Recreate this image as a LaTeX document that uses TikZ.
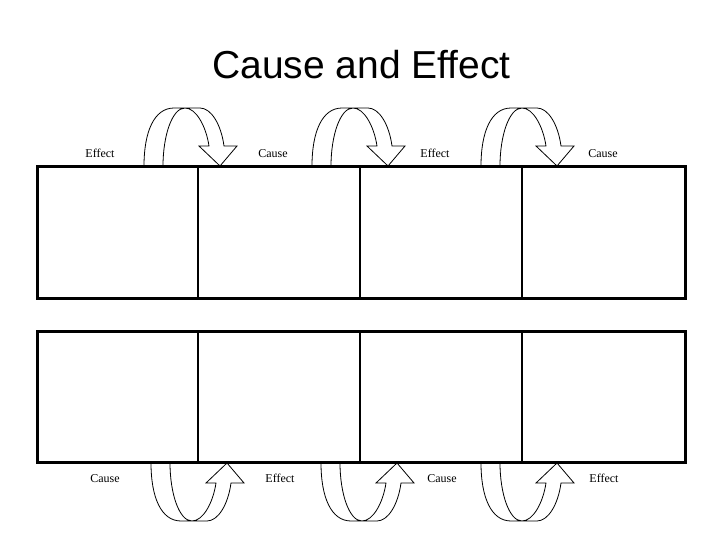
\documentclass[tikz,border=0pt]{standalone}
\usepackage{fontspec}
\setmainfont{Liberation Serif}
\newfontfamily\titlefont{Liberation Sans}
\newcommand\ceArrow[3]{%
  \path[carrow, shift={(#1,#2)}, yscale=#3]
    (-76,0) .. controls (-76,-34) and (-66,-58) .. (-46,-58)
    -- (-20,-58) .. controls (-9,-58) and (1,-42) .. (4,-20)
    -- (17,-20) -- (0,0) -- (-21,-20) -- (-11,-20)
    .. controls (-14,-40) and (-24,-58) .. (-35,-58)
    .. controls (-48,-58) and (-57,-30) .. (-57,0) -- cycle;}
\begin{document}
\begin{tikzpicture}[x=1pt,y=-1pt,
  lbl/.style={font=\fontsize{12}{14}\selectfont, anchor=base, inner sep=0pt},
  frame/.style={line width=3pt},
  divider/.style={line width=2pt},
  carrow/.style={draw=black, line width=0.8pt, fill=white, line join=miter}]
\useasboundingbox (0,0) rectangle (720,540);
\node[font=\titlefont\fontsize{39}{44}\selectfont, anchor=base, inner sep=0pt] (title) at (361.5,79) {Cause and Effect};
% curved arrows
\ceArrow{220}{166}{1}
\ceArrow{388}{166}{1}
\ceArrow{557}{166}{1}
\ceArrow{227}{463}{-1}
\ceArrow{397}{463}{-1}
\ceArrow{557}{463}{-1}
% tables
\draw[frame] (37,167) rectangle (685,298);
\draw[frame] (37,331) rectangle (685,462);
\foreach \x in {198,360,522}{
  \draw[divider] (\x,167) -- (\x,298);
  \draw[divider] (\x,331) -- (\x,462);
}
% labels
\node[lbl] (t1) at (100,158) {Effect};
\node[lbl] (t2) at (273,158) {Cause};
\node[lbl] (t3) at (435,158) {Effect};
\node[lbl] (t4) at (603,158) {Cause};
\node[lbl] (b1) at (105,482) {Cause};
\node[lbl] (b2) at (280,482) {Effect};
\node[lbl] (b3) at (442,482) {Cause};
\node[lbl] (b4) at (604,482) {Effect};
\end{tikzpicture}
\end{document}
